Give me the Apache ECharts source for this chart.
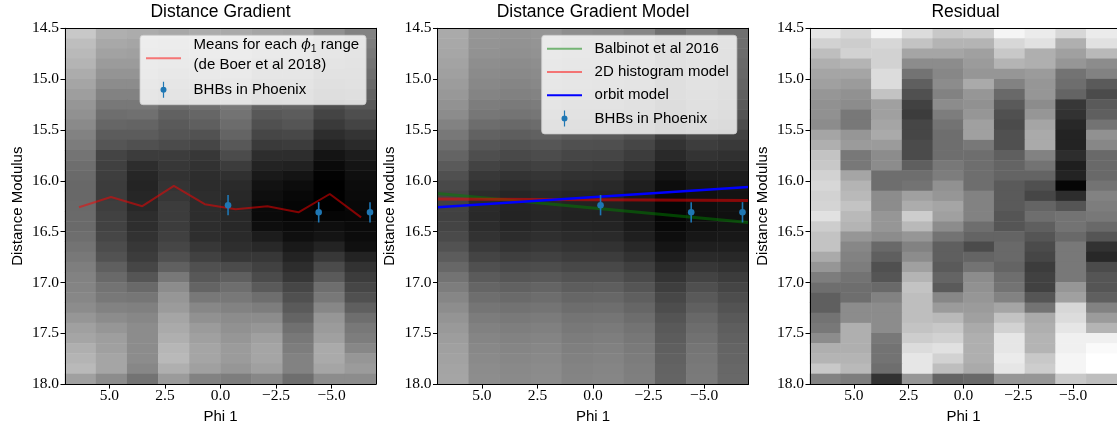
<!DOCTYPE html>
<html><head><meta charset="utf-8">
<script src="https://cdn.jsdelivr.net/npm/echarts@6/dist/echarts.min.js"></script>
<style>html,body{margin:0;padding:0;background:#fff}#c{width:1117px;height:429px}</style>
</head><body><div id="c"></div>
<script>
// ---------- data ----------
const panelTitles = ['Distance Gradient', 'Distance Gradient Model', 'Residual'];
const phiBins = ['6.3','4.9','3.5','2.1','0.7','-0.7','-2.1','-3.5','-4.9','-6.3'];
const dmBins = ['14.55','14.65','14.75','14.85','14.95','15.05','15.15','15.25','15.35','15.45',
  '15.55','15.65','15.75','15.85','15.95','16.05','16.15','16.25','16.35','16.45',
  '16.55','16.65','16.75','16.85','16.95','17.05','17.15','17.25','17.35','17.45',
  '17.55','17.65','17.75','17.85','17.95'];
const xTicks = [5, 2.5, 0, -2.5, -5];

// grey level of each cell (0 = black, 255 = white); one row per distance-modulus bin
const gradientGrid = [
  [200,175,172,168,172,170,165,163,145,130],
  [190,168,165,160,165,165,158,155,138,125],
  [185,162,160,155,160,160,150,148,130,120],
  [180,155,155,148,152,155,142,140,122,115],
  [172,148,148,140,145,148,132,130,112,110],
  [165,140,140,130,135,140,120,120,100,105],
  [158,130,130,120,125,132,110,110,90,98],
  [150,120,120,108,112,122,98,100,78,88],
  [145,110,112,97,102,115,88,92,68,78],
  [138,102,100,90,95,108,80,85,58,68],
  [130,92,92,85,82,100,70,72,45,52],
  [124,85,80,75,70,88,58,60,35,42],
  [116,68,60,60,55,75,45,45,20,28],
  [110,64,45,55,50,60,35,33,10,20],
  [106,62,38,50,45,48,25,20,3,15],
  [104,60,36,52,44,42,18,12,0,12],
  [104,60,38,55,45,40,14,8,0,10],
  [105,62,40,60,45,38,10,5,0,8],
  [106,65,45,60,45,40,10,5,5,6],
  [106,66,46,60,45,40,14,10,14,10],
  [110,70,50,64,46,42,28,15,20,12],
  [115,76,55,70,55,46,40,25,35,16],
  [120,82,60,80,65,55,55,35,55,35],
  [126,95,70,96,80,75,65,45,75,50],
  [130,105,85,120,88,95,75,55,90,60],
  [132,115,105,140,100,110,90,70,110,70],
  [135,120,118,150,120,120,110,80,120,80],
  [140,130,128,155,135,130,125,90,135,95],
  [150,140,135,165,145,140,140,100,150,110],
  [160,150,140,170,155,145,150,112,155,120],
  [165,158,140,175,160,150,160,120,160,125],
  [175,160,140,182,165,155,165,125,170,135],
  [180,165,140,185,165,155,165,130,170,150],
  [185,165,135,175,160,150,160,130,165,155],
  [160,140,115,155,130,125,135,110,140,140]
];
const modelGrid = [
  [170,150,148,150,142,140,134,112,126,112],
  [168,148,146,148,140,138,132,110,124,110],
  [166,146,144,146,138,136,130,108,122,108],
  [163,142,140,142,135,133,126,105,118,105],
  [160,139,137,139,131,129,123,101,115,103],
  [156,136,133,136,128,126,120,98,111,100],
  [152,132,129,131,124,122,115,94,107,96],
  [146,125,122,124,117,116,108,88,100,90],
  [140,119,116,118,111,109,102,81,94,84],
  [130,109,105,108,101,100,92,72,83,76],
  [120,98,94,97,91,89,81,61,72,66],
  [110,87,83,86,80,79,70,51,61,57],
  [100,78,73,76,70,69,60,41,51,48],
  [90,67,62,65,60,58,49,30,40,39],
  [80,56,51,53,49,48,37,20,29,29],
  [73,50,44,47,43,41,31,13,22,24],
  [68,44,38,41,37,36,25,8,16,19],
  [66,42,36,39,35,34,23,6,14,17],
  [65,41,35,38,34,33,22,5,13,16],
  [68,44,38,41,37,36,25,8,16,19],
  [74,50,44,47,43,42,31,14,23,24],
  [82,58,52,55,51,50,40,21,31,31],
  [92,68,63,65,60,60,50,30,42,40],
  [103,80,75,77,72,72,63,42,55,50],
  [115,91,86,88,83,83,74,52,67,60],
  [125,101,97,100,93,94,85,62,79,69],
  [134,110,106,109,102,103,95,71,89,77],
  [141,117,114,116,109,110,102,77,96,83],
  [148,124,121,123,116,117,109,84,104,89],
  [153,129,126,128,120,122,115,89,109,94],
  [157,133,130,132,124,126,119,92,113,97],
  [160,136,133,135,127,129,122,95,117,100],
  [162,138,135,137,129,131,124,97,119,101],
  [164,140,137,139,131,133,126,99,121,103],
  [165,141,138,140,132,134,127,100,122,104]
];
const residualGrid = [
  [230,215,245,220,200,205,245,235,215,235],
  [210,205,215,195,180,180,215,225,175,225],
  [190,210,210,165,165,160,200,175,160,185],
  [175,180,210,140,140,155,180,175,150,140],
  [165,165,220,115,135,150,150,155,115,130],
  [160,155,220,95,140,170,130,150,110,90],
  [150,145,195,80,130,150,105,150,100,75],
  [145,140,160,65,140,145,90,140,55,90],
  [145,120,160,60,125,150,80,150,50,95],
  [140,120,165,70,115,160,75,165,40,115],
  [165,150,170,70,110,160,80,170,35,145],
  [175,155,155,75,110,120,80,170,35,135],
  [195,120,140,75,110,110,95,130,45,105],
  [200,120,140,95,120,110,100,115,30,105],
  [210,165,110,110,125,110,100,100,35,105],
  [215,180,110,115,145,110,90,80,5,115],
  [210,185,140,160,150,130,90,70,45,130],
  [212,195,140,172,165,130,90,100,85,125],
  [225,185,150,205,160,130,85,110,115,120],
  [205,180,150,185,140,110,85,95,115,105],
  [195,150,140,150,115,100,100,85,105,85],
  [195,135,105,130,95,75,105,75,120,50],
  [170,130,95,140,95,100,105,70,120,40],
  [150,125,80,160,90,115,100,60,120,75],
  [125,115,85,180,100,140,110,65,120,85],
  [110,110,105,195,90,145,115,65,150,85],
  [95,110,130,190,135,150,130,85,160,95],
  [95,140,140,190,155,155,165,115,215,130],
  [115,140,140,190,185,160,195,170,220,155],
  [120,175,140,195,200,170,210,175,230,180],
  [140,175,120,205,210,175,230,180,240,240],
  [175,175,115,220,225,175,230,180,240,250],
  [180,180,115,230,210,175,235,200,245,255],
  [200,185,110,230,190,170,230,205,245,255],
  [130,125,50,150,100,105,150,150,200,190]
];

// de Boer et al 2018 means per phi1 range
const meanPhi = [6.37, 4.93, 3.52, 2.10, 0.71, -0.68, -2.11, -3.51, -4.92, -6.33];
const meanDM  = [16.26, 16.16, 16.25, 16.05, 16.23, 16.28, 16.25, 16.31, 16.13, 16.36];
// BHBs in Phoenix
const bhbPhi = [-0.34, -4.42, -6.73];
const bhbDM  = [16.24, 16.31, 16.31];
const bhbErr = [0.10, 0.10, 0.10];
// model lines (end points)
const modelPhi    = [7, -7];
const balbinotDM  = [16.125, 16.41];
const hist2dDM    = [16.18, 16.195];
const orbitDM     = [16.26, 16.06];

// ---------- chart ----------
const SANS = 'Liberation Sans';
const SERIF = 'Liberation Serif';
const meanName = 'Means for each ϕ1 range (de Boer et al 2018)';
const bhbName = 'BHBs in Phoenix';
const gridBoxes = [
  {left: 65, top: 28.3, width: 311, height: 361.5},
  {left: 437.5, top: 28.3, width: 311, height: 361.5},
  {left: 810, top: 28.3, width: 312, height: 361.5}
];
const fmt = v => (v < 0 ? '\u2212' : '') + Math.abs(v).toFixed(1);

const xAxis = [], yAxis = [];
gridBoxes.forEach((g, i) => {
  xAxis.push({
    type: 'value', gridIndex: i, min: -7, max: 7, inverse: true, z: 10,
    name: 'Phi 1', nameLocation: 'middle', nameGap: 22,
    nameTextStyle: {fontFamily: SANS, fontSize: 15, color: '#000'},
    axisLine: {show: true, onZero: false, lineStyle: {color: '#000', width: 1}},
    axisTick: {show: true, inside: false, length: 4.5, customValues: xTicks, lineStyle: {color: '#000', width: 1}},
    axisLabel: {customValues: xTicks, formatter: fmt, fontFamily: SERIF, fontSize: 15.5, color: '#000', margin: 4},
    splitLine: {show: false}
  });
  xAxis.push({
    type: 'category', gridIndex: i, data: phiBins, position: 'top', boundaryGap: true, z: 10,
    axisLine: {show: true, onZero: false, lineStyle: {color: '#000', width: 1}},
    axisTick: {show: false}, axisLabel: {show: false}, splitLine: {show: false}
  });
  yAxis.push({
    type: 'value', gridIndex: i, min: 14.5, max: 18, interval: 0.5, inverse: true, z: 10,
    name: 'Distance Modulus', nameLocation: 'middle', nameGap: 40, nameRotate: 90,
    nameTextStyle: {fontFamily: SANS, fontSize: 15, color: '#000'},
    axisLine: {show: true, onZero: false, lineStyle: {color: '#000', width: 1}},
    axisTick: {show: true, inside: false, length: 4.5, lineStyle: {color: '#000', width: 1}},
    axisLabel: {formatter: fmt, fontFamily: SERIF, fontSize: 15.5, color: '#000', margin: 6},
    splitLine: {show: false}
  });
  yAxis.push({
    type: 'category', gridIndex: i, data: dmBins, inverse: true, position: 'right', z: 10,
    axisLine: {show: true, onZero: false, lineStyle: {color: '#000', width: 1}},
    axisTick: {show: false}, axisLabel: {show: false}, splitLine: {show: false}
  });
});

function cells(grid) {
  const out = [];
  grid.forEach((row, r) => row.forEach((v, c) => out.push([c, r, v])));
  return out;
}
function pairs(xs, ys) { return xs.map((x, i) => [x, ys[i]]); }

function heat(grid, i) {
  return {
    type: 'heatmap', xAxisIndex: 2 * i + 1, yAxisIndex: 2 * i + 1, data: cells(grid), z: 1,
    itemStyle: {borderWidth: 0}, emphasis: {disabled: true}, progressive: 0, silent: true
  };
}
function bhbSeries(i) {
  return {
    type: 'custom', name: bhbName, xAxisIndex: 2 * i, yAxisIndex: 2 * i, z: 5, silent: true,
    color: '#1f77b4',
    data: bhbPhi.map((p, k) => [p, bhbDM[k], bhbErr[k]]),
    encode: {x: 0, y: 1},
    renderItem: (params, api) => {
      const x = api.value(0), y = api.value(1), e = api.value(2);
      const a = api.coord([x, y - e]), b = api.coord([x, y + e]), c = api.coord([x, y]);
      return {type: 'group', children: [
        {type: 'line', shape: {x1: a[0], y1: a[1], x2: b[0], y2: b[1]}, style: {stroke: '#1f77b4', lineWidth: 1.6}},
        {type: 'circle', shape: {cx: c[0], cy: c[1], r: 3.3}, style: {fill: '#1f77b4'}}
      ]};
    }
  };
}
function lineSeries(name, i, xs, ys, color, width, z) {
  return {
    type: 'line', name, xAxisIndex: 2 * i, yAxisIndex: 2 * i, data: pairs(xs, ys), z,
    showSymbol: false, symbol: 'none', silent: true, color,
    lineStyle: {color, width}, itemStyle: {color}, emphasis: {disabled: true}
  };
}

const lineIcon = 'path://M0,0 H35 V2 H0 Z';
const lineIconLow = 'path://M0,0 M0,6 H35 V8 H0 Z';
const ebIcon = 'path://M2.4,0 H3.6 V16 H2.4 Z M6,8 A3,3 0 1 1 0,8 A3,3 0 1 1 6,8 Z';

const legendBase = {
  orient: 'vertical', itemWidth: 35, itemHeight: 16, selectedMode: false,
  backgroundColor: 'rgba(255,255,255,0.8)', borderColor: 'rgba(204,204,204,0.8)',
  borderWidth: 1, borderRadius: 3,
  textStyle: {
    fontFamily: SANS, fontSize: 15, color: '#000', lineHeight: 20, padding: [0, 0, 0, 7.6],
    rich: {
      a: {fontFamily: SANS, fontSize: 15, color: '#000', lineHeight: 20},
      p: {fontFamily: 'DejaVu Serif', fontStyle: 'italic', fontSize: 14, color: '#000', lineHeight: 20},
      s: {fontFamily: SANS, fontSize: 10.5, color: '#000', lineHeight: 10, padding: [7, 0, 0, 0]}
    }
  },
  formatter: name => name === meanName
    ? '{a|Means for each }{p|ϕ}{s|1}{a| range}\n{a|(de Boer et al 2018)}'
    : name
};

const option = {
  animation: false,
  backgroundColor: '#ffffff',
  title: panelTitles.map((t, i) => ({
    text: t, left: gridBoxes[i].left + 155.5, top: 3, textAlign: 'center', padding: 0,
    textStyle: {fontFamily: SANS, fontSize: 17.5, fontWeight: 'normal', color: '#000'}
  })),
  grid: gridBoxes.map(g => Object.assign({containLabel: false}, g)),
  xAxis, yAxis,
  visualMap: {
    type: 'continuous', show: false, min: 0, max: 255, dimension: 2, seriesIndex: [0, 1, 2],
    inRange: {color: ['#000000', '#ffffff']}
  },
  legend: [
    Object.assign({}, legendBase, {
      left: 140, top: 35.3, padding: [0, 7, 5, 6], itemGap: 4.4,
      data: [
        {name: meanName, icon: lineIconLow, itemStyle: {color: 'rgba(255,0,0,0.5)', borderWidth: 0}},
        {name: bhbName, icon: ebIcon, itemStyle: {color: '#1f77b4', borderWidth: 0}}
      ]
    }),
    Object.assign({}, legendBase, {
      left: 541.7, top: 35.3, padding: [3.4, 8, 5.3, 5.3], itemGap: 3.3,
      data: [
        {name: 'Balbinot et al 2016', icon: lineIcon, itemStyle: {color: 'rgba(0,128,0,0.5)', borderWidth: 0}},
        {name: '2D histogram model', icon: lineIcon, itemStyle: {color: 'rgba(255,0,0,0.5)', borderWidth: 0}},
        {name: 'orbit model', icon: lineIcon, itemStyle: {color: '#0000ff', borderWidth: 0}},
        {name: bhbName, icon: ebIcon, itemStyle: {color: '#1f77b4', borderWidth: 0}}
      ]
    })
  ],
  series: [
    heat(gradientGrid, 0),
    heat(modelGrid, 1),
    heat(residualGrid, 2),
    lineSeries(meanName, 0, meanPhi, meanDM, 'rgba(255,0,0,0.5)', 2, 3),
    bhbSeries(0),
    lineSeries('Balbinot et al 2016', 1, modelPhi, balbinotDM, 'rgba(0,128,0,0.5)', 3, 3),
    lineSeries('2D histogram model', 1, modelPhi, hist2dDM, 'rgba(255,0,0,0.5)', 3, 3),
    lineSeries('orbit model', 1, modelPhi, orbitDM, '#0000ff', 2.5, 4),
    bhbSeries(1)
  ]
};

const chart = echarts.init(document.getElementById('c'), null, {renderer: 'canvas'});
chart.setOption(option);
</script>
</body></html>
